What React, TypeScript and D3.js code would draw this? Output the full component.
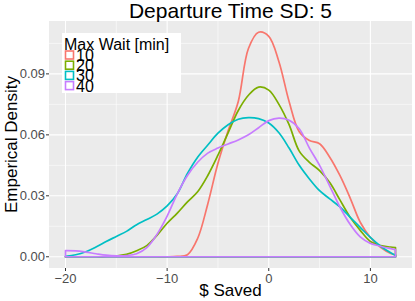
import React from "react";
import * as d3 from "d3";

// sample positions ($ saved) shared by every series
const xs = [
  -20, -19, -18, -17, -16, -15, -14, -13, -12, -11, -10, -9, -8, -7, -6, -5, -4,
  -3, -2, -1, 0, 1, 2, 3, 4, 5, 6, 7, 8, 9, 10, 11, 12, 12.47,
];

const wait10 = [
  0, 0, 0, 0, 0, 0, 0, 0, 0, 0, 0, 0.0002, 0.001, 0.009, 0.026, 0.046, 0.062,
  0.0764, 0.1025, 0.1105, 0.1085, 0.096, 0.0764, 0.0615, 0.0572, 0.0556, 0.049,
  0.04, 0.029, 0.017, 0.0095, 0.0046, 0.0016, 0.001,
];
const wait20 = [
  0, 0, 0, 0, 0, 0.0005, 0.0012, 0.003, 0.0055, 0.0105, 0.0165, 0.0215, 0.027,
  0.032, 0.04, 0.05, 0.061, 0.072, 0.0795, 0.0835, 0.082, 0.075, 0.065, 0.052,
  0.0465, 0.0424, 0.0365, 0.028, 0.0195, 0.013, 0.0075, 0.0055, 0.0048, 0.0045,
];
const wait30 = [
  0.0002, 0.001, 0.0025, 0.0048, 0.0075, 0.01, 0.0125, 0.0158, 0.0183, 0.021,
  0.025, 0.031, 0.041, 0.049, 0.055, 0.0608, 0.065, 0.0677, 0.0685, 0.068,
  0.0658, 0.061, 0.0535, 0.045, 0.0383, 0.0325, 0.0285, 0.0245, 0.0195, 0.0145,
  0.0095, 0.0052, 0.002, 0.0008,
];
const wait40 = [
  0.003, 0.0029, 0.0023, 0.0015, 0.0008, 0.0005, 0.0006, 0.0015, 0.0045, 0.011,
  0.02, 0.031, 0.04, 0.0465, 0.051, 0.0535, 0.0555, 0.0575, 0.06, 0.0635, 0.067,
  0.0682, 0.0672, 0.063, 0.0535, 0.045, 0.0348, 0.0245, 0.016, 0.0098, 0.0066,
  0.0052, 0.004, 0.0035,
];

const seriesNames = ["10", "20", "30", "40"];
const seriesValues = [wait10, wait20, wait30, wait40];
const colors = ["#F8766D", "#7CAE00", "#00BFC4", "#C77CFF"];

const xTicks = [-20, -10, 0, 10];
const xMinor = [-15, -5, 5];
const yTicks = [0, 0.03, 0.06, 0.09];
const yMinor = [0.015, 0.045, 0.075, 0.105];

const font = "'Liberation Sans', Arial, sans-serif";

export default function App() {
  const width = 415;
  const height = 301;
  const panel = { left: 49, right: 412, top: 21, bottom: 268 };

  const xMin = xs[0];
  const xMax = xs[xs.length - 1];
  const xPad = (xMax - xMin) * 0.05;
  const yMax = d3.max(seriesValues.flat()) as number;
  const yPad = yMax * 0.05;

  const x = d3
    .scaleLinear()
    .domain([xMin - xPad, xMax + xPad])
    .range([panel.left, panel.right]);
  const y = d3
    .scaleLinear()
    .domain([-yPad, yMax + yPad])
    .range([panel.bottom, panel.top]);

  // closed outline like geom_density: curve then back along the baseline
  const outline = (vals: number[]) => {
    const pts: [number, number][] = xs.map((d, i) => [x(d), y(vals[i])]);
    const curve = d3.line().curve(d3.curveCatmullRom.alpha(0.5))(pts) || "";
    return (
      curve +
      `L${x(xMax)},${y(0)}L${x(xMin)},${y(0)}Z`
    );
  };

  return (
    <svg width={width} height={height} style={{ position: "absolute", left: 0, top: 0 }}>
      <rect width={width} height={height} fill="white" />
      <rect
        x={panel.left}
        y={panel.top}
        width={panel.right - panel.left}
        height={panel.bottom - panel.top}
        fill="#EBEBEB"
      />
      {xMinor.map((t) => (
        <line key={"xm" + t} x1={x(t)} x2={x(t)} y1={panel.top} y2={panel.bottom} stroke="white" strokeWidth={0.55} />
      ))}
      {yMinor.map((t) => (
        <line key={"ym" + t} x1={panel.left} x2={panel.right} y1={y(t)} y2={y(t)} stroke="white" strokeWidth={0.55} />
      ))}
      {xTicks.map((t) => (
        <line key={"xg" + t} x1={x(t)} x2={x(t)} y1={panel.top} y2={panel.bottom} stroke="white" strokeWidth={1.1} />
      ))}
      {yTicks.map((t) => (
        <line key={"yg" + t} x1={panel.left} x2={panel.right} y1={y(t)} y2={y(t)} stroke="white" strokeWidth={1.1} />
      ))}

      {seriesValues.map((vals, i) => (
        <path
          key={seriesNames[i]}
          d={outline(vals)}
          fill="none"
          stroke={colors[i]}
          strokeWidth={1.7}
          strokeLinejoin="round"
        />
      ))}

      {/* axes */}
      {xTicks.map((t) => (
        <g key={"xt" + t}>
          <line x1={x(t)} x2={x(t)} y1={panel.bottom} y2={panel.bottom + 3} stroke="#333333" strokeWidth={1} />
          <text x={x(t)} y={panel.bottom + 15} textAnchor="middle" fontSize={13} fill="#4D4D4D" fontFamily={font}>
            {t < 0 ? "\u2212" + Math.abs(t) : t}
          </text>
        </g>
      ))}
      {yTicks.map((t) => (
        <g key={"yt" + t}>
          <line x1={panel.left - 3} x2={panel.left} y1={y(t)} y2={y(t)} stroke="#333333" strokeWidth={1} />
          <text x={panel.left - 4} y={y(t) + 4.5} textAnchor="end" fontSize={13} fill="#4D4D4D" fontFamily={font}>
            {d3.format(".2f")(t)}
          </text>
        </g>
      ))}

      <text x={(panel.left + panel.right) / 2} y={296} textAnchor="middle" fontSize={17} fontFamily={font} fill="black">
        $ Saved
      </text>
      <text
        transform={`translate(17,${(panel.top + panel.bottom) / 2}) rotate(-90)`}
        textAnchor="middle"
        fontSize={17}
        fontFamily={font}
        fill="black"
      >
        Emperical Density
      </text>
      <text x={(panel.left + panel.right) / 2} y={18} textAnchor="middle" fontSize={21} fontFamily={font} fill="black">
        Departure Time SD: 5
      </text>

      {/* legend */}
      <rect x={62} y={33} width={119} height={60} fill="white" />
      <text x={64} y={50} fontSize={16} fontFamily={font} fill="black">
        Max Wait [min]
      </text>
      {seriesNames.map((name, i) => (
        <g key={"lg" + name}>
          <rect
            x={65.5}
            y={51 + i * 10.2}
            width={8}
            height={8}
            fill="white"
            stroke={colors[i]}
            strokeWidth={1.6}
          />
          <text x={76} y={61 + i * 10.2} fontSize={16} fontFamily={font} fill="black">
            {name}
          </text>
        </g>
      ))}
    </svg>
  );
}
